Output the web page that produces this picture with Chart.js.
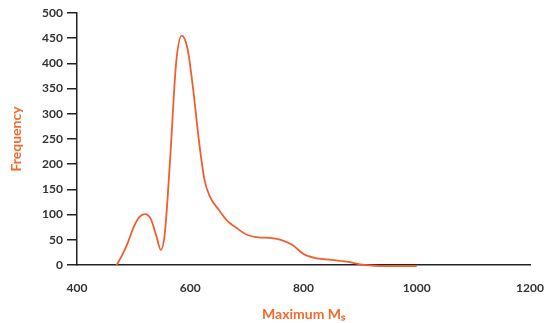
<!DOCTYPE html>
<html>
<head>
<meta charset="utf-8">
<script src="https://cdn.jsdelivr.net/npm/chart.js@4"></script>
<style>
  html, body { margin: 0; padding: 0; background: #fff; }
  #wrap { width: 544px; height: 323px; }
</style>
</head>
<body>
<div id="wrap"><canvas id="chart"></canvas></div>
<script>
// values
const magnitudes = [470, 480, 490, 500, 510, 520, 530, 540, 548, 555, 565, 575, 585, 595, 605, 615, 625, 635, 650, 665, 680, 700, 720, 740, 760, 780, 800, 820, 850, 880, 900, 920, 950, 1000];
const frequency = [0, 20, 45, 75, 95, 101, 92, 58, 30, 62, 220, 400, 455, 430, 350, 250, 170, 135, 110, 88, 75, 60, 55, 54, 50, 40, 22, 14, 10, 6, 1, -1, -2, -2];
const yTicks = [0, 50, 100, 150, 200, 250, 300, 350, 400, 450, 500];
const xTicks = [400, 600, 800, 1000, 1200];

const orange = '#f26a2c';
const tickFont = { family: 'Lato', size: 12, weight: 'bold' };
const titleFont = { family: 'Lato', size: 14, weight: 'bold' };

const points = magnitudes.map((m, i) => ({ x: m, y: frequency[i] }));

new Chart(document.getElementById('chart'), {
    type: 'line',
    data: {
        datasets: [{
            data: points,
            borderColor: '#ef5f2f',
            borderWidth: 1.8,
            pointRadius: 0,
            tension: 0.4,
            cubicInterpolationMode: 'monotone',
            fill: false,
            clip: false
        }]
    },
    options: {
        responsive: true,
        maintainAspectRatio: false,
        animation: false,
        layout: { padding: { top: 13, right: 14, bottom: 0, left: 0 } },
        plugins: { legend: { display: false }, tooltip: { enabled: false } },
        scales: {
            x: {
                type: 'linear',
                min: 400,
                max: 1200,
                afterBuildTicks: scale => { scale.ticks = xTicks.map(v => ({ value: v })); },
                afterFit: scale => { scale.height = 58; scale.paddingRight = 0; },
                grid: { display: false },
                border: { display: true, color: '#222', width: 1.5 },
                ticks: { color: '#333', font: tickFont, padding: 8, maxRotation: 0, callback: v => String(v) },
                title: {
                    display: true,
                    text: 'Maximum Mₛ',
                    color: orange,
                    font: titleFont,
                    padding: { top: 6, bottom: 0 }
                }
            },
            y: {
                min: 0,
                max: 500,
                afterBuildTicks: scale => { scale.ticks = yTicks.map(v => ({ value: v })); },
                afterFit: scale => { scale.width = 77; },
                grid: { drawOnChartArea: false, drawTicks: true, tickLength: 10, color: '#222', lineWidth: 1.5 },
                border: { display: true, color: '#222', width: 1.5 },
                ticks: { color: '#333', font: tickFont, padding: 4 },
                title: {
                    display: true,
                    text: 'Frequency',
                    color: orange,
                    font: titleFont,
                    padding: { top: 8, bottom: 0 }
                }
            }
        }
    }
});
</script>
</body>
</html>
